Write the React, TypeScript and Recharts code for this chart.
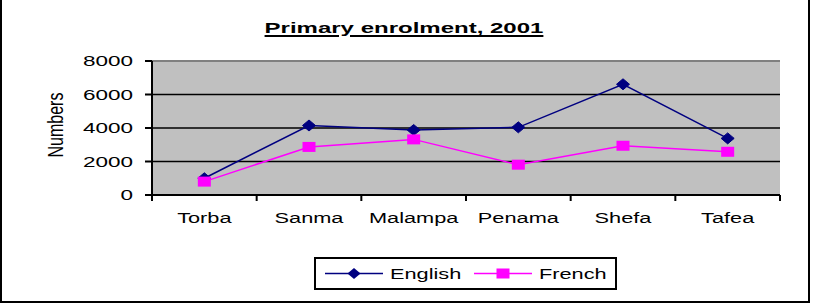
import { LineChart, Line, XAxis, YAxis, CartesianGrid, ReferenceLine } from 'recharts'

const categories = ['Torba', 'Sanma', 'Malampa', 'Penama', 'Shefa', 'Tafea']
const english = [1000, 4150, 3880, 4040, 6610, 3380]
const french = [800, 2870, 3320, 1810, 2940, 2580]
const yTicks = [0, 2000, 4000, 6000, 8000]

const seriesNames = ['English', 'French']
const seriesColors = ['#000080', '#ff00ff']

const data = categories.map((name, i) => ({
  name,
  English: english[i],
  French: french[i],
}))

const FONT = '"Liberation Sans", Arial, sans-serif'
const PLOT_LEFT = 152
const PLOT_RIGHT = 780
const BAND = (PLOT_RIGHT - PLOT_LEFT) / categories.length

// the source picture is stretched sideways, so text is widened a bit
const XTick = (props: any) => {
  const { x, y, payload, index } = props
  const last = index === categories.length - 1
  return (
    <g>
      <text
        transform={`translate(${x},${y + 28}) scale(1.45,1)`}
        textAnchor="middle"
        fontFamily={FONT}
        fontSize={15}
        fill="#000"
      >
        {payload.value}
      </text>
      <line x1={x - BAND / 2} x2={x - BAND / 2} y1={y} y2={y + 6} stroke="#000" strokeWidth={2} />
      {last && <line x1={x + BAND / 2} x2={x + BAND / 2} y1={y} y2={y + 6} stroke="#000" strokeWidth={2} />}
    </g>
  )
}

const YTick = (props: any) => {
  const { x, y, payload } = props
  return (
    <text
      transform={`translate(${x},${y}) scale(1.5,1)`}
      textAnchor="end"
      dy="0.36em"
      fontFamily={FONT}
      fontSize={15}
      fill="#000"
    >
      {payload.value}
    </text>
  )
}

const Diamond = (props: any) => {
  const { cx, cy, index } = props
  if (cx == null || cy == null) return <g key={index} />
  return (
    <polygon
      key={index}
      points={`${cx},${cy - 5.5} ${cx + 6.5},${cy} ${cx},${cy + 5.5} ${cx - 6.5},${cy}`}
      fill="#000080"
      stroke="#000080"
    />
  )
}

const Square = (props: any) => {
  const { cx, cy, index } = props
  if (cx == null || cy == null) return <g key={index} />
  return <rect key={index} x={cx - 6.5} y={cy - 5} width={13} height={10} fill="#ff00ff" />
}

const NumbersLabel = () => (
  <text
    transform="translate(63,125) rotate(-90) scale(1,1.4)"
    textAnchor="middle"
    fontFamily={FONT}
    fontSize={16}
    fill="#000"
  >
    Numbers
  </text>
)

const Legend = () => (
  <div
    style={{
      position: 'absolute',
      left: 314,
      top: 257,
      width: 303,
      height: 33,
      border: '2px solid #000',
      boxSizing: 'border-box',
      background: '#fff',
    }}
  >
    <svg width={299} height={29}>
      {seriesNames.map((name, i) => {
        const x0 = 9 + i * 149
        return (
          <g key={name}>
            <line x1={x0} x2={x0 + 58} y1={14.5} y2={14.5} stroke={seriesColors[i]} strokeWidth={1.5} />
            {i === 0 ? (
              <polygon
                points={`${x0 + 29},${9} ${x0 + 35.5},${14.5} ${x0 + 29},${20} ${x0 + 22.5},${14.5}`}
                fill={seriesColors[i]}
              />
            ) : (
              <rect x={x0 + 22.5} y={9.5} width={13} height={10} fill={seriesColors[i]} />
            )}
            <text
              transform={`translate(${x0 + 65},${20}) scale(1.45,1)`}
              fontFamily={FONT}
              fontSize={15}
              fill="#000"
            >
              {name}
            </text>
          </g>
        )
      })}
    </svg>
  </div>
)

export default function App() {
  return (
    <div style={{ position: 'absolute', left: 0, top: 0, width: 836, height: 306, background: '#fff' }}>
      <div
        style={{
          position: 'absolute',
          left: 0,
          top: 0,
          width: 810,
          height: 303,
          borderLeft: '2px solid #000',
          borderRight: '2px solid #000',
          borderBottom: '2px solid #000',
          boxSizing: 'border-box',
        }}
      />
      <div
        style={{
          position: 'absolute',
          left: 0,
          top: 19,
          width: 808,
          textAlign: 'center',
          fontFamily: FONT,
          fontWeight: 'bold',
          fontSize: 15,
          lineHeight: '17px',
          textDecoration: 'underline',
          textDecorationThickness: 2,
          textUnderlineOffset: 2,
          transform: 'scaleX(1.6)',
          transformOrigin: '404px 0',
        }}
      >
        Primary enrolment, 2001
      </div>
      <div style={{ position: 'absolute', left: 0, top: 0 }}>
        <LineChart width={836} height={306} data={data} margin={{ top: 61, right: 56, bottom: 81, left: 0 }}>
          <CartesianGrid vertical={false} fill="#c0c0c0" stroke="#000" strokeWidth={1.5} fillOpacity={1} />
          <XAxis
            dataKey="name"
            height={30}
            padding={{ left: BAND / 2, right: BAND / 2 }}
            tickLine={false}
            tickSize={0}
            tickMargin={0}
            axisLine={{ stroke: '#000', strokeWidth: 2 }}
            tick={<XTick />}
            interval={0}
          />
          <YAxis
            width={152}
            domain={[0, 8000]}
            ticks={yTicks}
            tickSize={7}
            tickMargin={12}
            tickLine={{ stroke: '#000', strokeWidth: 2 }}
            axisLine={{ stroke: '#000', strokeWidth: 2 }}
            tick={<YTick />}
            label={{ content: <NumbersLabel /> }}
          />
          <YAxis
            yAxisId="right"
            orientation="right"
            width={0}
            domain={[0, 8000]}
            tick={false}
            tickLine={false}
            axisLine={{ stroke: '#808080', strokeWidth: 2 }}
          />
          <ReferenceLine y={8000} stroke="#808080" strokeWidth={2} />
          <Line
            dataKey="English"
            stroke={seriesColors[0]}
            strokeWidth={1.5}
            dot={Diamond}
            activeDot={false}
            isAnimationActive={false}
          />
          <Line
            dataKey="French"
            stroke={seriesColors[1]}
            strokeWidth={1.5}
            dot={Square}
            activeDot={false}
            isAnimationActive={false}
          />
        </LineChart>
      </div>
      <Legend />
    </div>
  )
}
